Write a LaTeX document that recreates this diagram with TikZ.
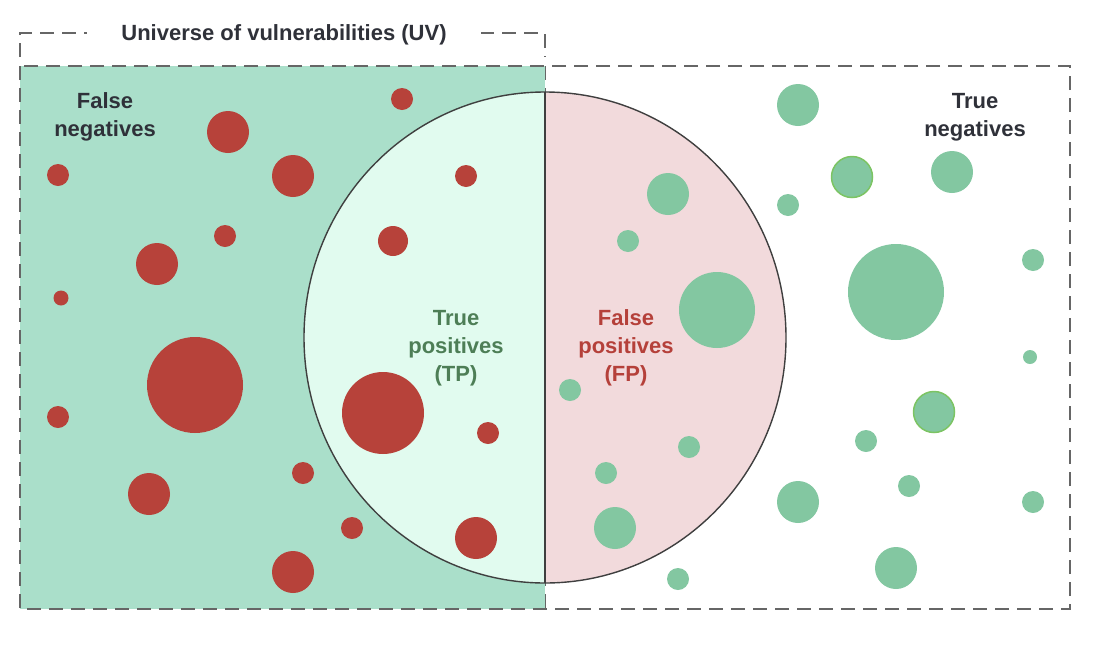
\documentclass[tikz,border=0pt]{standalone}
\usepackage{fontspec}
\setmainfont{Liberation Sans}
\definecolor{fnarea}{HTML}{AADFCA}
\definecolor{tparea}{HTML}{E1FBEF}
\definecolor{fparea}{HTML}{F2DADC}
\definecolor{reddot}{HTML}{B7423A}
\definecolor{greendot}{HTML}{83C7A1}
\definecolor{limering}{HTML}{7CC463}
\definecolor{dashgrey}{HTML}{666666}
\definecolor{ringgrey}{HTML}{3F3F3F}
\definecolor{labeldark}{HTML}{2F3139}
\definecolor{tptext}{HTML}{4D7E56}
\definecolor{fptext}{HTML}{B5403A}
\begin{document}
\begin{tikzpicture}
	[
	x=1pt, y=-1pt,
	align=center,
	every node/.style={font=\fontsize{22}{28}\selectfont\bfseries, inner sep=2pt},
	border/.style={draw=dashgrey, line width=1.6pt, dash pattern=on 14pt off 8pt},
	bad/.style={fill=reddot},
	good/.style={fill=greendot}
	]
		\useasboundingbox (0,0) rectangle (1098,646);

		% regions
		\fill[fnarea] (20,66) rectangle (545,609);
		\begin{scope}
			\clip (20,0) rectangle (545,646);
			\fill[tparea] (545,337.5) ellipse (241 and 245.5);
		\end{scope}
		\begin{scope}
			\clip (545,0) rectangle (1070,646);
			\fill[fparea] (545,337.5) ellipse (241 and 245.5);
		\end{scope}
		\draw[border] (20,66) rectangle (1070,609);
		\draw[border, line width=1pt] (545,66) -- (545,609);
		\draw[ringgrey, line width=1.4pt] (545,92) -- (545,583);
		\draw[ringgrey, line width=1.4pt] (545,337.5) ellipse (241 and 245.5);

		% bracket with title
		\draw[border] (20,57) -- (20,33) -- (545,33) -- (545,57);
		\node[fill=white, text=labeldark, inner xsep=34pt] (uv) at (284,35) {Universe of vulnerabilities (UV)};

		% dots, red
		\foreach \x/\y/\r in {402/99/11, 228/132/21, 58/175/11, 293/176/21, 466/176/11,
			225/236/11, 393/241/15, 157/264/21, 61/298/7.5, 195/385/48, 383/413/41,
			58/417/11, 488/433/11, 303/473/11, 149/494/21, 352/528/11, 476/538/21, 293/572/21}
			\fill[bad] (\x,\y) circle (\r);

		% dots, green
		\foreach \x/\y/\r in {798/105/21, 668/194/21, 952/172/21, 788/205/11, 628/241/11,
			896/292/48, 717/310/38, 1033/260/11, 1030/357/7, 570/390/11, 866/441/11,
			689/447/11, 606/473/11, 909/486/11, 798/502/21, 1033/502/11, 615/528/21,
			896/568/21, 678/579/11}
			\fill[good] (\x,\y) circle (\r);
		\foreach \x/\y in {852/177, 934/412}
			\filldraw[good, draw=limering, line width=1.5pt] (\x,\y) circle (20.5);

		% labels
		\node[text=labeldark] (fn) at (105,117) {False\\negatives};
		\node[text=labeldark] (tn) at (975,117) {True\\negatives};
		\node[text=tptext] (tp) at (456,348) {True\\positives\\(TP)};
		\node[text=fptext] (fp) at (626,348) {False\\positives\\(FP)};
	\end{tikzpicture}
\end{document}
